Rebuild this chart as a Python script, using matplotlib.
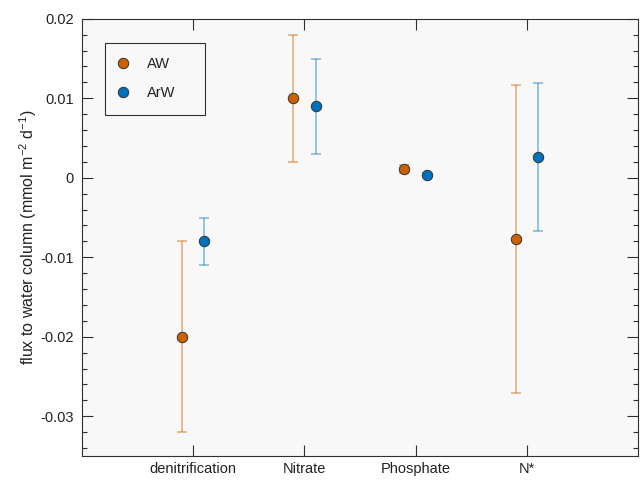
import matplotlib.pyplot as plt
import numpy as np
from matplotlib.lines import Line2D
from matplotlib.ticker import MultipleLocator

plt.rcParams['font.family'] = ['Liberation Sans', 'DejaVu Sans']

categories = ['denitrification', 'Nitrate', 'Phosphate', 'N*']
aw_mean = [-0.020, 0.010, 0.0011, -0.0077]
aw_err = [0.012, 0.008, 0.0005, 0.0194]
arw_mean = [-0.008, 0.009, 0.0004, 0.0026]
arw_err = [0.003, 0.006, 0.0002, 0.0093]

orange = '#CC6100'
blue = '#0072BD'
dark = '#303030'

fig = plt.figure(figsize=(6.4, 4.82), dpi=100)
ax = fig.add_axes([0.128, 0.054, 0.869, 0.907])
ax.set_facecolor('#F8F8F8')

x = np.arange(1, len(categories) + 1)
ax.errorbar(x - 0.1, aw_mean, yerr=aw_err, fmt='none', ecolor=orange,
            alpha=0.45, elinewidth=1.3, capsize=3.5, capthick=1.3)
ax.errorbar(x + 0.1, arw_mean, yerr=arw_err, fmt='none', ecolor=blue,
            alpha=0.5, elinewidth=1.1, capsize=3.5, capthick=1.1)
ax.plot(x - 0.1, aw_mean, 'o', color=orange, mec='#333333', mew=0.7, ms=7.5)
ax.plot(x + 0.1, arw_mean, 'o', color=blue, mec='#333333', mew=0.7, ms=7.5)

ax.set_xlim(0, 5)
ax.set_ylim(-0.035, 0.02)
ax.set_xticks(x)
ax.set_xticklabels(categories)
ax.yaxis.set_major_locator(MultipleLocator(0.01))
ax.yaxis.set_minor_locator(MultipleLocator(0.002))
ax.yaxis.set_major_formatter(plt.FuncFormatter(lambda v, p: '0' if abs(v) < 1e-9 else f'{v:.2f}'))
ax.tick_params(axis='both', which='both', direction='in', top=True, right=True,
               labelsize=10.5, color=dark, labelcolor='#222222', width=0.8)
ax.tick_params(axis='both', which='major', length=8)
ax.tick_params(axis='y', which='minor', length=3.5)
ax.tick_params(axis='x', which='major', pad=4)
ax.tick_params(axis='y', which='major', pad=6)
for s in ax.spines.values():
    s.set_color(dark)
    s.set_linewidth(0.8)

ax.set_ylabel('flux to water column (mmol m$^{\\mathregular{-2}}$ d$^{\\mathregular{-1}}$)',
              fontsize=11.5, color='#222222', labelpad=1)

handles = [Line2D([], [], marker='o', ls='none', color=orange, mec='#333333', mew=0.7, ms=7.5),
           Line2D([], [], marker='o', ls='none', color=blue, mec='#333333', mew=0.7, ms=7.5)]
leg = ax.legend(handles, ['AW', 'ArW'], loc='upper left',
                bbox_to_anchor=(0.0414, 0.945, 0.18, 0.0), mode='expand',
                fontsize=10.5, fancybox=False, edgecolor=dark, facecolor='#F8F8F8',
                framealpha=1, borderpad=1.0, labelspacing=1.0, handletextpad=1.35,
                handlelength=0.5, borderaxespad=0)
leg.get_frame().set_linewidth(0.8)
for t in leg.get_texts():
    t.set_color('#222222')

fig.savefig('out.png', dpi=100)
